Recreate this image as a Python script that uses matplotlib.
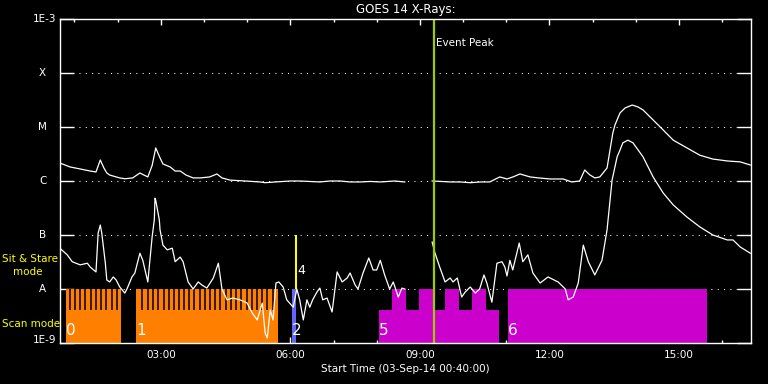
import matplotlib
matplotlib.use("Agg")
import matplotlib.pyplot as plt
import matplotlib.transforms as mtransforms
from matplotlib.ticker import FixedLocator, NullLocator
import numpy as np

plt.rcParams['font.family'] = ['DejaVu Sans']
plt.rcParams['lines.scale_dashes'] = False

nan = float('nan')

# GOES 14 long channel (1-8 A), W/m^2
long_time = ["00:40", "00:54", "01:08", "01:22", "01:30", "01:33", "01:36", "01:41", "01:45",
             "01:49", "02:03", "02:10", "02:21", "02:31", "02:36", "02:42", "02:48", "02:53",
             "02:59", "03:03", "03:13", "03:20", "03:27", "03:35", "03:45", "03:55", "04:08",
             "04:18", "04:25", "04:36", "04:57", "05:18", "05:25", "05:39", "06:00", "06:13",
             "06:27", "06:41", "06:55", "07:09", "07:23", "07:37", "07:51", "08:05", "08:25",
             "08:39", "09:00", "09:17", "09:30", "09:42", "09:56", "10:10", "10:24", "10:37",
             "10:51", "11:01", "11:10", "11:19", "11:33", "11:45", "12:01", "12:19", "12:31",
             "12:42", "12:49", "12:56", "13:03", "13:10", "13:20", "13:28", "13:31", "13:38",
             "13:45", "13:55", "14:03", "14:10", "14:24", "14:38", "14:52", "15:11", "15:29",
             "15:47", "16:07", "16:25", "16:39"]
long_flux = [2.15e-6, 1.82e-6, 1.67e-6, 1.53e-6, 1.47e-6, 1.9e-6, 2.45e-6, 1.74e-6, 1.41e-6,
             1.29e-6, 1.14e-6, 1.10e-6, 1.14e-6, 1.41e-6, 1.3e-6, 1.19e-6, 1.94e-6, 4.1e-6,
             2.67e-6, 2.07e-6, 1.82e-6, 1.53e-6, 1.53e-6, 1.29e-6, 1.14e-6, 1.14e-6, 1.19e-6,
             1.35e-6, 1.14e-6, 1.04e-6, 1.0e-6, 9.6e-7, 9.3e-7, 9.6e-7, 1.0e-6, 1.0e-6,
             9.8e-7, 9.6e-7, 1.0e-6, 1.0e-6, 9.6e-7, 9.6e-7, 9.8e-7, 9.6e-7, 1.0e-6,
             9.6e-7, nan, 1.0e-6, 9.8e-7, 9.6e-7, 9.6e-7, 9.3e-7, 9.6e-7, 9.6e-7,
             1.19e-6, 1.09e-6, 1.2e-6, 1.35e-6, 1.19e-6, 1.14e-6, 1.09e-6, 1.09e-6, 9.6e-7,
             1.0e-6, 1.6e-6, 1.3e-6, 1.14e-6, 1.19e-6, 1.74e-6, 7.7e-6, 1.09e-5, 1.82e-5,
             2.25e-5, 2.55e-5, 2.35e-5, 2.07e-5, 1.35e-5, 8.8e-6, 5.7e-6, 4.1e-6, 3.0e-6,
             2.55e-6, 2.35e-6, 2.26e-6, 1.98e-6]

# GOES 14 short channel (0.5-4 A), W/m^2
short_time = ["00:41", "00:50", "00:57", "01:08", "01:18", "01:22", "01:30", "01:33", "01:36",
              "01:38", "01:43", "01:45", "01:49", "01:54", "01:58", "02:03", "02:10", "02:13",
              "02:20", "02:24", "02:31", "02:35", "02:42", "02:48", "02:51", "02:52", "02:53",
              "02:58", "02:59", "03:03", "03:09", "03:16", "03:20", "03:27", "03:31", "03:38",
              "03:45", "03:52", "03:57", "04:04", "04:13", "04:20", "04:25", "04:32", "04:40",
              "04:50", "05:00", "05:07", "05:14", "05:21", "05:25", "05:28", "05:32", "05:36",
              "05:40", "05:44", "05:50", "05:55", "06:04", "06:09", "06:13", "06:18", "06:23",
              "06:27", "06:31", "06:37", "06:41", "06:45", "06:51", "06:58", "07:05", "07:12",
              "07:19", "07:23", "07:30", "07:34", "07:41", "07:49", "07:55", "08:00", "08:05",
              "08:11", "08:18", "08:23", "08:30", "08:35", "08:39", "09:00", "09:17", "09:21",
              "09:28", "09:35", "09:42", "09:46", "09:52", "09:58", "10:03", "10:10", "10:17",
              "10:23", "10:29", "10:33", "10:40", "10:47", "10:54", "10:58", "11:01", "11:05",
              "11:09", "11:18", "11:23", "11:30", "11:37", "11:47", "11:58", "12:12", "12:22",
              "12:26", "12:33", "12:40", "12:47", "12:54", "13:03", "13:13", "13:20", "13:27",
              "13:34", "13:38", "13:42", "13:49", "13:56", "14:10", "14:24", "14:38", "14:52",
              "15:11", "15:29", "15:47", "16:07", "16:15", "16:25", "16:39"]
short_flux = [5.5e-8, 4.3e-8, 3.2e-8, 2.8e-8, 3.0e-8, 2.55e-8, 2.07e-8, 1.09e-7, 1.53e-7,
              1.09e-7, 3.0e-8, 1.47e-8, 1.35e-8, 1.67e-8, 1.47e-8, 1.09e-8, 8.4e-9, 1.0e-8,
              1.67e-8, 1.98e-8, 4.6e-8, 3.4e-8, 1.35e-8, 9.2e-8, 1.9e-7, 4.8e-7, 4.4e-7,
              1.9e-7, 1.24e-7, 6.5e-8, 5.3e-8, 5.7e-8, 3.2e-8, 3.9e-8, 3.2e-8, 1.35e-8,
              1.0e-8, 1.35e-8, 1.19e-8, 1.04e-8, 1.6e-8, 3.0e-8, 1.0e-8, 6.3e-9, 6.8e-9,
              6.3e-9, 5.5e-9, 3.6e-9, 2.67e-9, 5.5e-9, 1.53e-9, 1.24e-9, 4.1e-9, 2.67e-9,
              1.29e-8, 1.35e-8, 1.09e-8, 6.3e-9, 4.6e-9, 1.0e-8, 6.3e-9, 2.67e-9, 6.3e-9,
              4.6e-9, 6.3e-9, 8.8e-9, 1.04e-8, 6.3e-9, 6.8e-9, 3.75e-9, 2.07e-8, 1.35e-8,
              1.6e-8, 1.98e-8, 1.19e-8, 1.0e-8, 1.98e-8, 3.75e-8, 2.25e-8, 2.25e-8, 3.4e-8,
              1.82e-8, 1.0e-8, 1.35e-8, 7.1e-9, 1.04e-8, 1.0e-8, nan, 7.4e-8, 4.6e-8,
              2.45e-8, 1.35e-8, 1.6e-8, 1.35e-8, 1.6e-8, 7.1e-9, 8.8e-9, 1.09e-8, 8.4e-9,
              1.0e-8, 1.82e-8, 1.29e-8, 5.7e-9, 3.0e-8, 3.2e-8, 2.55e-8, 1.74e-8, 3.4e-8,
              2.25e-8, 7.1e-8, 3.2e-8, 4.3e-8, 1.98e-8, 1.29e-8, 1.67e-8, 1.35e-8, 1.0e-8,
              6.3e-9, 7.1e-9, 1.29e-8, 6.5e-8, 3.2e-8, 1.82e-8, 3.4e-8, 1.24e-7, 1.04e-6,
              2.8e-6, 3.75e-6, 5.1e-6, 5.7e-6, 5.1e-6, 2.8e-6, 1.19e-6, 6.0e-7, 3.6e-7,
              2.15e-7, 1.41e-7, 1.0e-7, 8.1e-8, 8.1e-8, 6.0e-8, 4.6e-8]

# observation windows, minutes after 00:00
scan_start = [48.3, 145.6]
scan_end = [124.7, 342.8]
scan_names = ["0", "1"]
scan_gaps = [[53.9, 60.8, 68.2, 75.1, 82.6, 90.0, 97.4, 104.3, 111.8, 119.2],
             [154.3, 161.8, 169.2, 176.6, 184.1, 191.0, 198.4, 205.7, 212.7, 219.6,
              226.6, 234.1, 241.4, 248.4, 255.7, 262.7, 270.2, 277.6, 284.5, 291.9,
              299.4, 306.3, 313.7, 321.1, 328.0, 335.5]]
blue_start, blue_end = 362.3, 367.4
sit_start, sit_end = 366.5, 369.7
mag5_start, mag5_end = 483.2, 649.9
mag5_blocks = [(501.2, 520.7), (538.7, 558.2), (574.8, 594.3), (612.4, 631.8)]
mag6_start, mag6_end = 662.4, 938.8
event_peak = 560.0

levels = [1e-9, 1e-8, 1e-7, 1e-6, 1e-5, 1e-4, 1e-3]
level_names = ["1E-9", "A", "B", "C", "M", "X", "1E-3"]
base_level = 4.08e-9

orange = "#ff8000"
magenta = "#cc00cc"
blue = "#6464ff"
yellow = "#ffff00"
green = "#9ccc00"


def to_min(s):
    h, m = s.split(":")
    return int(h) * 60 + int(m)


W, H = 768, 384
fig = plt.figure(figsize=(W / 100, H / 100), dpi=100, facecolor="black")
ax = fig.add_axes([60 / W, 41 / H, 691 / W, 324 / H])
ax.set_facecolor("black")
ax.set_yscale("log")
ax.set_xlim(40, 1000)
ax.set_ylim(1e-9, 1e-3)

for sp in ax.spines.values():
    sp.set_color("white")
    sp.set_linewidth(1.0)
    sp.set_zorder(6)

# dotted level lines
for lv in levels[1:-1]:
    ax.axhline(lv, color="white", lw=0.75, ls=(0, (0.75, 3.8)), zorder=1)


def bar(x0, x1, y0, y1, color):
    ax.bar(x0, y1 - y0, width=x1 - x0, bottom=y0, align="edge", color=color,
           linewidth=0, zorder=2)


# scan mode windows with raster comb
for s, e, gaps in zip(scan_start, scan_end, scan_gaps):
    bar(s, e, 1e-9, 1e-8, orange)
    ax.vlines(gaps, base_level, 1e-8, color="black", lw=1.1, zorder=2.5)
bar(blue_start, blue_end, 1e-9, 1e-8, blue)
bar(sit_start, sit_end, 1e-8, 1e-7, yellow)
bar(mag5_start, mag5_end, 1e-9, base_level, magenta)
for s, e in mag5_blocks:
    bar(s, e, base_level, 1e-8, magenta)
bar(mag6_start, mag6_end, 1e-9, 1e-8, magenta)

# region numbers
for s, n in zip(scan_start, scan_names):
    ax.text(s, 1.24e-9, n, color="white", fontsize=11, ha="left", va="bottom", zorder=5)
ax.text(blue_start, 1.24e-9, "2", color="white", fontsize=11, ha="left", va="bottom", zorder=5)
ax.text(mag5_start, 1.24e-9, "5", color="white", fontsize=11, ha="left", va="bottom", zorder=5)
ax.text(mag6_start, 1.24e-9, "6", color="white", fontsize=11, ha="left", va="bottom", zorder=5)
ax.text(sit_end, 1.65e-8, "4", color="white", fontsize=9, ha="left", va="bottom", zorder=5)

# GOES curves
lt = [to_min(t) for t in long_time]
st = [to_min(t) for t in short_time]
ax.plot(lt, long_flux, color="white", lw=0.9, zorder=4)
ax.plot(st, short_flux, color="white", lw=0.9, zorder=4)

# event peak
ax.axvline(event_peak, color=green, lw=1.6, zorder=4.5)
trans = mtransforms.blended_transform_factory(ax.transData, ax.transAxes)
ax.text(event_peak + 2.5, 0.926, "Event Peak", color="white", fontsize=7.5,
        ha="left", va="center", transform=trans)

# ticks
ax.yaxis.set_major_locator(FixedLocator(levels))
ax.yaxis.set_minor_locator(NullLocator())
ax.tick_params(axis="y", which="major", direction="in", length=10, width=1,
               color="white", left=True, right=True, labelleft=False)
ax.xaxis.set_major_locator(FixedLocator([180, 360, 540, 720, 900]))
ax.xaxis.set_minor_locator(FixedLocator([60, 120, 240, 300, 420, 480, 600, 660,
                                         780, 840, 960]))
ax.set_xticklabels(["03:00", "06:00", "09:00", "12:00", "15:00"])
ax.tick_params(axis="x", which="major", direction="in", length=4.3, width=1,
               color="white", top=True, bottom=True, labelcolor="white",
               labelsize=7.5, pad=5)
ax.tick_params(axis="x", which="minor", direction="in", length=2.5, width=1,
               color="white", top=True, bottom=True)

# level labels
ytrans = mtransforms.blended_transform_factory(ax.transAxes, ax.transData)
for lv, nm in zip(levels, level_names):
    if nm.startswith("1E"):
        yy = lv * (1.13 if lv == 1e-9 else 1.0)
        ax.text(-0.005, yy, nm, color="white", fontsize=7.5, ha="right",
                va="center", transform=ytrans)
    else:
        ax.text(-0.025, lv, nm, color="white", fontsize=7.5, ha="center",
                va="center", transform=ytrans)

fig.text(2 / W, 1 - 259 / H, "Sit & Stare", color=yellow, fontsize=7.5, ha="left", va="center")
fig.text(13 / W, 1 - 272 / H, "mode", color=yellow, fontsize=7.5, ha="left", va="center")
fig.text(2 / W, 1 - 324 / H, "Scan mode", color=yellow, fontsize=7.5, ha="left", va="center")

fig.text(405.5 / W, 1 - 9 / H, "GOES 14 X-Rays:", color="white", fontsize=8.5,
         ha="center", va="center")
fig.text(405.5 / W, 1 - 369 / H, "Start Time (03-Sep-14 00:40:00)", color="white",
         fontsize=7.5, ha="center", va="center")

fig.savefig("out.png", dpi=100, facecolor="black")
